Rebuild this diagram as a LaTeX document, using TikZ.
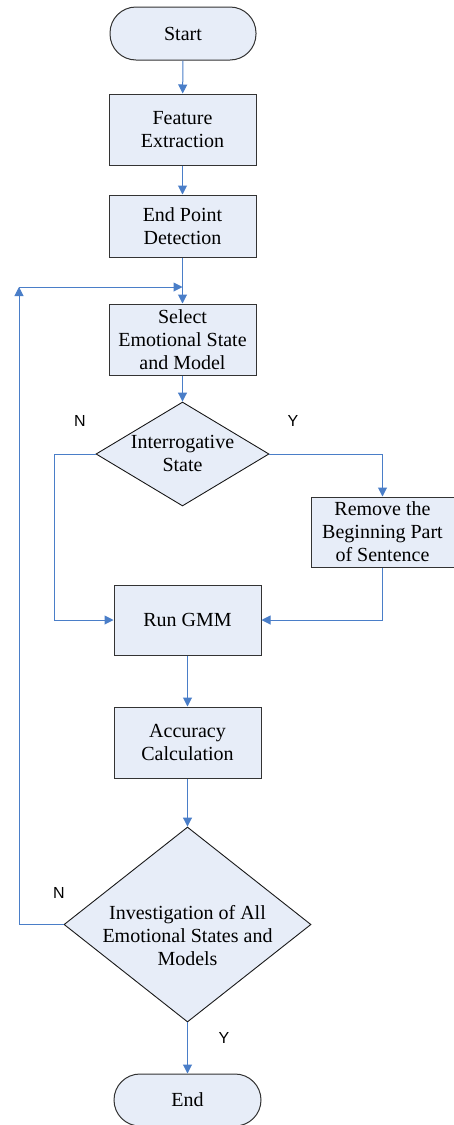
\documentclass[tikz,border=0pt]{standalone}
\usepackage{fontspec}
\setmainfont{Liberation Serif}
\newfontfamily\labfont{Liberation Sans}
\usetikzlibrary{arrows.meta,shapes.geometric}
\definecolor{boxfill}{HTML}{E7EDF8}
\definecolor{arrowblue}{HTML}{4A7EC8}
\begin{document}
\begin{tikzpicture}[x=1pt,y=-1pt,
 box/.style={draw=black!80,line width=1pt,fill=boxfill,rectangle,inner sep=0pt,align=center,font=\fontsize{20}{23}\selectfont},
 term/.style={box,rounded corners=26pt},
 dec/.style={draw=black!90,line width=0.9pt,fill=boxfill,diamond,inner sep=0pt},
 txt/.style={align=center,font=\fontsize{20}{23}\selectfont},
 flow/.style={draw=arrowblue,line width=1pt,-{Triangle[length=9pt,width=9pt]}},
 plainflow/.style={draw=arrowblue,line width=1pt},
 yn/.style={font=\labfont\fontsize{16}{18}\selectfont}]
\useasboundingbox (0,0) rectangle (454,1125);

\node[term,minimum width=146pt,minimum height=53pt] (start) at (183,33.5) {Start};
\node[box,minimum width=147pt,minimum height=71pt] (fe) at (182.5,129.5) {Feature\\Extraction};
\node[box,minimum width=147pt,minimum height=62pt] (epd) at (182.5,226) {End Point\\Detection};
\node[box,minimum width=147pt,minimum height=71pt] (sel) at (182.5,339.5) {Select\\Emotional State\\and Model};
\node[dec,minimum width=173pt,minimum height=104pt] (d1) at (182.5,454) {};
\node[txt] (d1t) at (182.5,453) {Interrogative\\State};
\node[box,minimum width=143pt,minimum height=70pt] (rem) at (382.5,532) {Remove the\\Beginning Part\\of Sentence};
\node[box,minimum width=147pt,minimum height=70pt] (gmm) at (187.5,620) {Run GMM};
\node[box,minimum width=147pt,minimum height=71pt] (acc) at (187.5,742.5) {Accuracy\\Calculation};
\node[dec,minimum width=247pt,minimum height=195pt] (d2) at (187.5,924.5) {};
\node[txt] (d2t) at (187.5,936) {Investigation of All\\Emotional States and\\Models};
\node[term,minimum width=147pt,minimum height=52pt] (end) at (187.5,1100) {End};

\coordinate (lc) at (19,287);
\coordinate (jn) at (182.5,287);
\coordinate (nl) at (54,454);

\draw[flow] (start) -- (fe);
\draw[flow] (fe) -- (epd);
\draw[flow] (epd) -- (sel);
\draw[flow] (sel) -- (d1);
\draw[flow] (d1.west) -- (nl) |- (gmm.west);
\draw[flow] (d1.east) -| (rem.north);
\draw[flow] (rem.south) |- (gmm.east);
\draw[flow] (gmm) -- (acc);
\draw[flow] (acc) -- (d2);
\draw[flow] (d2) -- (end);
\draw[flow] (d2.west) -| (lc);
\draw[flow] (lc) -- (jn);

\node[yn] (n1) at (80,421) {N};
\node[yn] (y1) at (293,421) {Y};
\node[yn] (n2) at (59,893) {N};
\node[yn] (y2) at (224,1038) {Y};
\end{tikzpicture}
\end{document}
